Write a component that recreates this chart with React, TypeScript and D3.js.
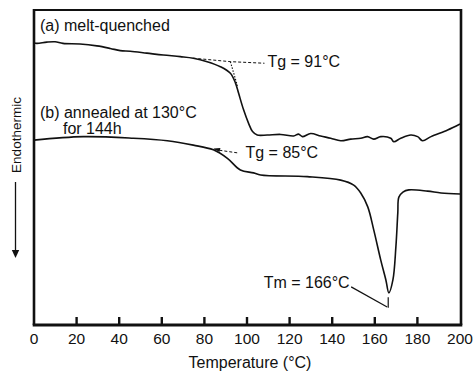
import React from "react";
import * as d3 from "d3";

// Curve (a) melt-quenched: [temperature °C, heat flow (a.u., up = exothermic)]
const curveA: [number, number][] = [
  [0, 89.6], [1.3, 89.4], [6.0, 89.8], [9.9, 89.9], [13.6, 89.4], [21.6, 89.2],
  [29.5, 88.6], [35.8, 87.8], [40.5, 87.1], [45.2, 86.9], [53.0, 86.3], [60.7, 85.7],
  [68.7, 85.2], [74.8, 84.7], [81.3, 83.6], [87.5, 82.0], [92.2, 79.9], [94.6, 76.8],
  [96.0, 73.7], [98.4, 68.3], [100.7, 64.1], [102.6, 61.4], [104.8, 60.3], [109.5, 60.3],
  [115.8, 60.5], [121.9, 60.0], [124.2, 60.6], [126.0, 59.8], [129.9, 60.8], [134.6, 60.0],
  [139.3, 59.3], [144.0, 58.5], [148.7, 59.0], [153.4, 59.3], [156.6, 59.8], [159.5, 59.0],
  [162.8, 59.8], [167.5, 59.3], [168.9, 58.2], [172.2, 59.3], [176.9, 60.3], [180.1, 59.8],
  [182.4, 58.5], [186.4, 59.8], [194.2, 61.9], [200, 63.8],
];

// Curve (b) annealed at 130°C for 144h
const curveB: [number, number][] = [
  [0, 58.7], [23.1, 59.8], [46.6, 59.3], [62.6, 58.5], [74.8, 57.1], [84.2, 55.6],
  [90.8, 52.9], [96.9, 49.2], [103.1, 48.3], [106.4, 47.6], [128.3, 47.1], [144.0, 46.0],
  [150.1, 44.4], [153.4, 41.9], [156.7, 37.5], [159.5, 30.2], [162.8, 20.6], [165.2, 14.3],
  [166.6, 10.2], [168.5, 14.3], [169.9, 24.8], [170.8, 35.6], [171.3, 40.6], [173.2, 42.2],
  [176.0, 42.9], [184.8, 42.5], [191.1, 41.9], [200, 41.6],
];

const xTicks = [0, 20, 40, 60, 80, 100, 120, 140, 160, 180, 200];
const xLabel = "Temperature (°C)";
const yLabel = "Endothermic";

// Annotation geometry in data units
const tgAdashed: [number, number][] = [[74.8, 84.7], [92.2, 83.6], [108.2, 83.1]];
const tgAdotted: [number, number][] = [[92.2, 83.6], [95.5, 75.9]];
const tgBdashed: [number, number][] = [[84.7, 55.7], [96.0, 54.6]];
const tmLeader: [number, number][] = [[148.9, 12.1], [165.8, 5.7]];
const tmStem: [number, number][] = [[166.3, 5.5], [166.3, 8.8]];

const labels = [
  { text: "(a) melt-quenched", x: 2.8, y: 93.3, anchor: "start" },
  { text: "(b) annealed at 130°C", x: 2.8, y: 65.6, anchor: "start" },
  { text: "for 144h", x: 13.6, y: 60.6, anchor: "start" },
  { text: "Tg = 91°C", x: 109.6, y: 81.9, anchor: "start" },
  { text: "Tg = 85°C", x: 99.3, y: 53.0, anchor: "start" },
  { text: "Tm = 166°C", x: 148.2, y: 11.8, anchor: "end" },
];

export default function App() {
  const W = 474, H = 372;
  const left = 34, right = 460, top = 10, bottom = 325;
  const x = d3.scaleLinear().domain([0, 200]).range([left, right]);
  const y = d3.scaleLinear().domain([0, 100]).range([bottom, top]);
  const smooth = d3.line<[number, number]>().x(d => x(d[0])).y(d => y(d[1])).curve(d3.curveCatmullRom.alpha(0.5));
  const straight = d3.line<[number, number]>().x(d => x(d[0])).y(d => y(d[1]));
  const font = "'Liberation Sans', Arial, Helvetica, sans-serif";
  const ink = "#111";

  const ax = x(tgBdashed[0][0]), ay = y(tgBdashed[0][1]);

  return (
    <svg width={W} height={H} style={{ position: "absolute", left: 0, top: 0, background: "#fff" }}
      fontFamily={font}>
      <rect x={0} y={0} width={W} height={H} fill="#fff" />
      {/* frame */}
      <line x1={left} y1={top} x2={right + 1} y2={top} stroke={ink} strokeWidth={2.2} />
      <line x1={left} y1={top - 1} x2={left} y2={bottom} stroke={ink} strokeWidth={2.6} />
      <line x1={right + 1} y1={top - 1} x2={right + 1} y2={bottom} stroke={ink} strokeWidth={2.6} />
      <line x1={left - 1.3} y1={bottom} x2={right + 2.3} y2={bottom} stroke={ink} strokeWidth={3} />
      {xTicks.filter(t => t > 0 && t < 200).map(t => (
        <line key={t} x1={x(t)} x2={x(t)} y1={bottom} y2={bottom - 8} stroke={ink} strokeWidth={2.4} />
      ))}
      {xTicks.map(t => (
        <text key={t} x={x(t)} y={343.5} textAnchor="middle" fontSize={15.5} fill={ink}>{t}</text>
      ))}
      <text x={(left + right) / 2 + 3} y={368} textAnchor="middle" fontSize={16} fill={ink}>{xLabel}</text>
      {/* y label with arrow */}
      <text transform={`translate(20.5,135) rotate(-90)`} textAnchor="middle" fontSize={13.5} fill={ink}>{yLabel}</text>
      <line x1={15.5} y1={182} x2={15.5} y2={252} stroke={ink} strokeWidth={1.3} />
      <path d={`M11.8,250 L19.2,250 L15.5,258 Z`} fill={ink} />
      {/* curves */}
      <path d={smooth(curveA) || ""} fill="none" stroke={ink} strokeWidth={1.6} />
      <path d={smooth(curveB) || ""} fill="none" stroke={ink} strokeWidth={1.6} />
      {/* annotations */}
      <path d={straight(tgAdashed) || ""} fill="none" stroke={ink} strokeWidth={1} strokeDasharray="3,2" />
      <path d={straight(tgAdotted) || ""} fill="none" stroke={ink} strokeWidth={1.1} strokeDasharray="1.5,1.5" />
      <path d={straight(tgBdashed) || ""} fill="none" stroke={ink} strokeWidth={1} strokeDasharray="3,2" />
      <path d={`M${ax - 1},${ay - 1} L${ax + 6},${ay - 1.5} L${ax + 5},${ay + 2.5} Z`} fill={ink} />
      <path d={straight(tmLeader) || ""} fill="none" stroke={ink} strokeWidth={1.2} />
      <path d={straight(tmStem) || ""} fill="none" stroke={ink} strokeWidth={1.2} />
      {labels.map(l => (
        <text key={l.text} x={x(l.x)} y={y(l.y)} textAnchor={l.anchor as any} fontSize={16} fill={ink}>{l.text}</text>
      ))}
    </svg>
  );
}
